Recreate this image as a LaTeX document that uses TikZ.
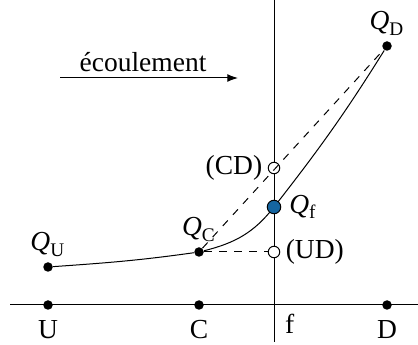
\documentclass[tikz,border=0pt]{standalone}
\usepackage{amsmath}
\usepackage{fontspec}
\setmainfont{Liberation Serif}
\usepackage{tikz}
\usetikzlibrary{arrows.meta, positioning}
\definecolor{dotblue}{HTML}{1565A0}

\begin{document}
\begin{tikzpicture}[
    x=0.4pt, y=0.4pt,
    font=\fontsize{11}{13}\selectfont,
    dot/.style={circle, fill=black, inner sep=0pt, minimum size=3.8pt},
    opendot/.style={circle, draw=black, fill=white, inner sep=0pt, minimum size=4.6pt},
    bluedot/.style={circle, draw=black, fill=dotblue, inner sep=0pt, minimum size=5.4pt},
    lbl/.style={inner sep=1pt},
    arrow/.style={-{Latex[length=1.5mm, width=1.1mm]}},
]
    \useasboundingbox (0,0) rectangle (418,345);

    % axes
    \coordinate (axL) at (10,40);
    \coordinate (axR) at (418,40);
    \coordinate (fB) at (274,3);
    \coordinate (fT) at (274,345);
    \draw (axL) -- (axR);
    \draw (fB) -- (fT);

    % flow direction
    \coordinate (flowA) at (60,267);
    \coordinate (flowB) at (238,267);
    \draw[arrow] (flowA) -- (flowB);
    \node[lbl] (flowtxt) at (143,283) {écoulement};

    % stations on the axis
    \node[dot] (U) at (48,40) {};
    \node[dot] (C) at (199,40) {};
    \node[dot] (D) at (387,40) {};
    \node[lbl, below=3pt of U] (Ulbl) {U};
    \node[lbl, below=3pt of C] (Clbl) {C};
    \node[lbl, below=3pt of D] (Dlbl) {D};
    \node[lbl, anchor=north west] (flbl) at (282,34) {f};

    % discharges
    \node[dot] (qU) at (48,78) {};
    \node[dot] (qC) at (199,93) {};
    \node[dot] (qD) at (387,299) {};
    \node[opendot] (UD) at (274,93) {};
    \node[opendot] (CD) at (274,177) {};

    % dashed guides
    \draw[dashed] (qC) -- (UD);
    \draw[dashed] (qC) -- (qD);

    % rating curve
    \draw (qU) to[out=4, in=188] (qC);
    \draw (qC) to[out=14, in=232] (274,138) to[out=52, in=238] (qD);
    \node[bluedot] (qf) at (274,138) {};

    % labels
    \node[lbl, above=1pt of qU] (qUlbl) {$\textit{Q}_{\text{U}}$};
    \node[lbl, above=1pt of qC] (qClbl) {$\textit{Q}_{\text{C}}$};
    \node[lbl, above=1pt of qD] (qDlbl) {$\textit{Q}_{\text{D}}$};
    \node[lbl, right=2pt of qf] (qflbl) {$\textit{Q}_{\text{f}}$};
    \node[lbl, left=1pt of CD] (CDlbl) {(CD)};
    \node[lbl, right=1pt of UD] (UDlbl) {(UD)};

\end{tikzpicture}
\end{document}
